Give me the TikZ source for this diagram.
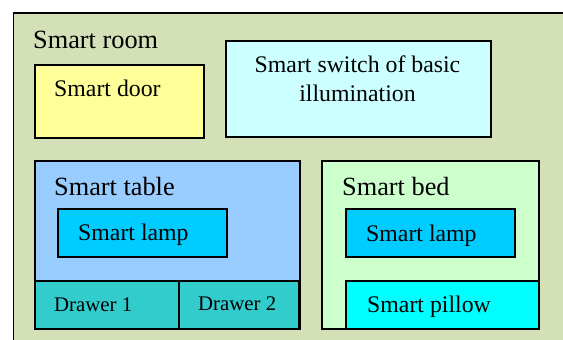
\documentclass[tikz,border=0pt]{standalone}
\usepackage{fontspec}
\setmainfont{Liberation Serif}
\definecolor{roomfill}{RGB}{212,224,184}
\definecolor{doorfill}{RGB}{255,255,153}
\definecolor{switchfill}{RGB}{204,255,255}
\definecolor{tablefill}{RGB}{153,204,255}
\definecolor{lampfill}{RGB}{0,204,255}
\definecolor{drawerfill}{RGB}{51,204,204}
\definecolor{bedfill}{RGB}{204,255,204}
\definecolor{pillowfill}{RGB}{0,255,255}
\begin{document}
\begin{tikzpicture}[x=1pt,y=-1pt,
  box/.style={draw=black, line width=2pt, inner sep=0pt, anchor=north west},
  head/.style={anchor=base west, inner sep=0pt, font=\fontsize{26.3}{30}\selectfont},
  item/.style={anchor=base west, inner sep=0pt, font=\fontsize{23.8}{28}\selectfont},
  small/.style={anchor=base west, inner sep=0pt, font=\fontsize{20.8}{24}\selectfont}]
\useasboundingbox (0,0) rectangle (563,340);
\clip (0,0) rectangle (563,340);
\fill[white] (0,0) rectangle (563,340);
% room
\node[box, line width=1.5pt, fill=roomfill, minimum width=620pt, minimum height=380pt] (room) at (12.5,12) {};
\node[head] (roomlbl) at (33,48) {Smart room};
% door and switch
\node[box, fill=doorfill, minimum width=169pt, minimum height=73pt] (door) at (33.5,63.5) {};
\node[item] (doorlbl) at (54,96.5) {Smart door};
\node[box, fill=switchfill, minimum width=265pt, minimum height=96pt] (switch) at (225,40) {};
\node[item, anchor=base] (swlblA) at (357.5,72.7) {Smart switch of basic};
\node[item, anchor=base] (swlblB) at (357.5,101) {illumination};
% table
\node[box, fill=tablefill, minimum width=265pt, minimum height=168pt] (table) at (33.5,160) {};
\node[head] (tablelbl) at (54,195) {Smart table};
\node[box, fill=lampfill, minimum width=169pt, minimum height=48pt] (tlamp) at (57,208) {};
\node[item] (tlamplbl) at (78,240.7) {Smart lamp};
\node[box, fill=drawerfill, minimum width=144pt, minimum height=48pt] (drawerA) at (33.5,280) {};
\node[small] (drawerAlbl) at (54,311) {Drawer 1};
\node[box, fill=drawerfill, minimum width=120.5pt, minimum height=48pt] (drawerB) at (177.5,280) {};
\node[small] (drawerBlbl) at (198,310) {Drawer 2};
% bed
\node[box, fill=bedfill, minimum width=217pt, minimum height=168pt] (bed) at (321,160) {};
\node[head] (bedlbl) at (342,195) {Smart bed};
\node[box, fill=lampfill, minimum width=169pt, minimum height=48pt] (blamp) at (345,208) {};
\node[item] (blamplbl) at (366,241) {Smart lamp};
\node[box, fill=pillowfill, minimum width=193pt, minimum height=48pt] (pillow) at (345,280) {};
\node[item] (pillowlbl) at (367,312.5) {Smart pillow};
\end{tikzpicture}
\end{document}
